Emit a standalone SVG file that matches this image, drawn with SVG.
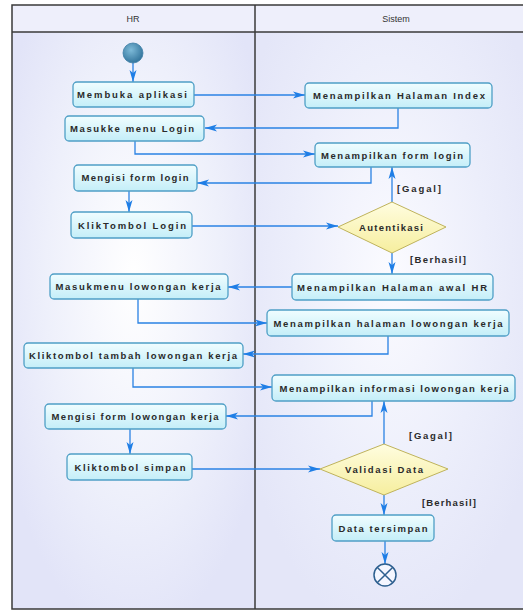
<svg xmlns="http://www.w3.org/2000/svg" width="523" height="611" viewBox="0 0 523 611">
<defs>
<radialGradient id="glowL" cx="0.5" cy="0.45" r="0.6">
<stop offset="0" stop-color="#ffffff"/>
<stop offset="0.6" stop-color="#eef0fb"/>
<stop offset="1" stop-color="#e2e4f8"/>
</radialGradient>
<radialGradient id="glowR" cx="0.5" cy="0.45" r="0.6">
<stop offset="0" stop-color="#fbfbff"/>
<stop offset="0.6" stop-color="#eceefb"/>
<stop offset="1" stop-color="#e4e6f8"/>
</radialGradient>
<linearGradient id="nodeG" x1="0" y1="0" x2="0" y2="1">
<stop offset="0" stop-color="#f0fdff"/>
<stop offset="1" stop-color="#c4eef8"/>
</linearGradient>
<linearGradient id="decG" x1="0" y1="0" x2="0" y2="1">
<stop offset="0" stop-color="#fffde0"/>
<stop offset="1" stop-color="#f6ee9e"/>
</linearGradient>
<radialGradient id="startG" cx="0.4" cy="0.35" r="0.7">
<stop offset="0" stop-color="#7dbad8"/>
<stop offset="1" stop-color="#2f7199"/>
</radialGradient>
<marker id="arr" viewBox="0 0 12 8" refX="12" refY="4" markerWidth="12" markerHeight="8" markerUnits="userSpaceOnUse" orient="auto">
<path d="M0,0.5 L12,4 L0,7.5 L3,4 Z" fill="#1f7ee6"/>
</marker>
</defs>
<style>
.lane{stroke:#3a3a3a;stroke-width:1.5;fill:none}
.hdr{font-family:"Liberation Sans",Arial,sans-serif;font-size:9px;fill:#333;text-anchor:middle}
.node rect{fill:url(#nodeG);stroke:#4f9fc6;stroke-width:1.3}
.node polygon{fill:url(#decG);stroke:#bfb35c;stroke-width:1}
.lbl{font-family:"Liberation Sans",Arial,sans-serif;font-size:9.5px;font-weight:bold;fill:#2a2a2a;text-anchor:middle}
.guard{font-family:"Liberation Sans",Arial,sans-serif;font-size:9.5px;font-weight:bold;fill:#2a2a2a}
.conn path{fill:none;stroke:#2a82e4;stroke-width:1.3;marker-end:url(#arr)}
</style>
<rect x="0" y="0" width="523" height="611" fill="#ffffff"/>
<rect x="12" y="5" width="243" height="604" fill="url(#glowL)"/>
<rect x="255" y="5" width="270" height="604" fill="url(#glowR)"/>
<rect x="12" y="5" width="513" height="27" fill="#eeeffb"/>
<g id="lanes">
<rect class="lane" x="12" y="5" width="515" height="604"/>
<line class="lane" x1="12" y1="32" x2="525" y2="32"/>
<line class="lane" x1="255" y1="5" x2="255" y2="609"/>
<text class="hdr" x="133" y="22">HR</text>
<text class="hdr" x="396" y="22">Sistem</text>
</g>
<g class="conn" id="connectors">
<path d="M133,63 V82"/>
<path d="M194,95 H305"/>
<path d="M398,108 V128 H205"/>
<path d="M135,141 V154 H315"/>
<path d="M371,167 V183 H197"/>
<path d="M129,191 V212"/>
<path d="M192,226 H338"/>
<path d="M392,202 V167"/>
<path d="M392,253 V274"/>
<path d="M292,287 H228"/>
<path d="M138,299 V323 H267"/>
<path d="M388,336 V354 H243"/>
<path d="M133,368 V387 H272"/>
<path d="M372,401 V416 H226"/>
<path d="M130,429 V454"/>
<path d="M192,469 H320"/>
<path d="M384,444 V401"/>
<path d="M384,495 V515"/>
<path d="M385,541 V564"/>
</g>
<g id="start"><ellipse cx="133" cy="53" rx="10" ry="10" fill="url(#startG)" stroke="#3c7ea6" stroke-width="0.8"/></g>
<g class="node" id="n1"><rect x="73" y="82" width="121" height="25" rx="4"/><text class="lbl" x="132" y="98" textLength="110">Membuka aplikasi</text></g>
<g class="node" id="n2"><rect x="305" y="83" width="187" height="25" rx="4"/><text class="lbl" x="399" y="99" textLength="172">Menampilkan Halaman Index</text></g>
<g class="node" id="n3"><rect x="65" y="116" width="139" height="25" rx="4"/><text class="lbl" x="132" y="132" textLength="124">Masukke menu Login</text></g>
<g class="node" id="n4"><rect x="315" y="143" width="155" height="24" rx="4"/><text class="lbl" x="392" y="158.5" textLength="142">Menampilkan form login</text></g>
<g class="node" id="n5"><rect x="74" y="165" width="123" height="26" rx="4"/><text class="lbl" x="135" y="181" textLength="107">Mengisi form login</text></g>
<g class="node" id="n6"><rect x="71" y="212" width="121" height="26" rx="4"/><text class="lbl" x="132" y="228.5" textLength="108">KlikTombol Login</text></g>
<g class="node" id="d1"><polygon points="338,227 392,202 446,227 392,253"/><text class="lbl" x="391" y="231" textLength="64">Autentikasi</text></g>
<text class="guard" x="397" y="192" textLength="44">[Gagal]</text>
<text class="guard" x="410" y="263" textLength="56">[Berhasil]</text>
<g class="node" id="n7"><rect x="292" y="274" width="201" height="26" rx="4"/><text class="lbl" x="392" y="290.5" textLength="190">Menampilkan Halaman awal HR</text></g>
<g class="node" id="n8"><rect x="50" y="274" width="178" height="25" rx="4"/><text class="lbl" x="138" y="290" textLength="165">Masukmenu lowongan kerja</text></g>
<g class="node" id="n9"><rect x="267" y="310" width="242" height="26" rx="4"/><text class="lbl" x="388" y="326.5" textLength="229">Menampilkan halaman lowongan kerja</text></g>
<g class="node" id="n10"><rect x="24" y="343" width="219" height="25" rx="4"/><text class="lbl" x="133" y="359" textLength="208">Kliktombol tambah lowongan kerja</text></g>
<g class="node" id="n11"><rect x="272" y="375" width="243" height="26" rx="4"/><text class="lbl" x="394" y="391.5" textLength="229">Menampilkan informasi lowongan kerja</text></g>
<g class="node" id="n12"><rect x="45" y="404" width="181" height="25" rx="4"/><text class="lbl" x="135" y="420" textLength="167">Mengisi form lowongan kerja</text></g>
<g class="node" id="n13"><rect x="67" y="454" width="125" height="26" rx="4"/><text class="lbl" x="130" y="470.5" textLength="111">Kliktombol simpan</text></g>
<g class="node" id="d2"><polygon points="320,469 384,444 448,469 384,495"/><text class="lbl" x="384" y="473" textLength="78">Validasi Data</text></g>
<text class="guard" x="409" y="439" textLength="43">[Gagal]</text>
<text class="guard" x="422" y="506" textLength="54">[Berhasil]</text>
<g class="node" id="n14"><rect x="332" y="515" width="102" height="26" rx="4"/><text class="lbl" x="383" y="531.5" textLength="89">Data tersimpan</text></g>
<g id="end"><circle cx="385" cy="575" r="11" fill="#f4f6ff" stroke="#2d5f8f" stroke-width="1.5"/><path d="M377.2,567.2 L392.8,582.8 M392.8,567.2 L377.2,582.8" stroke="#2d5f8f" stroke-width="1.5"/></g>
</svg>
